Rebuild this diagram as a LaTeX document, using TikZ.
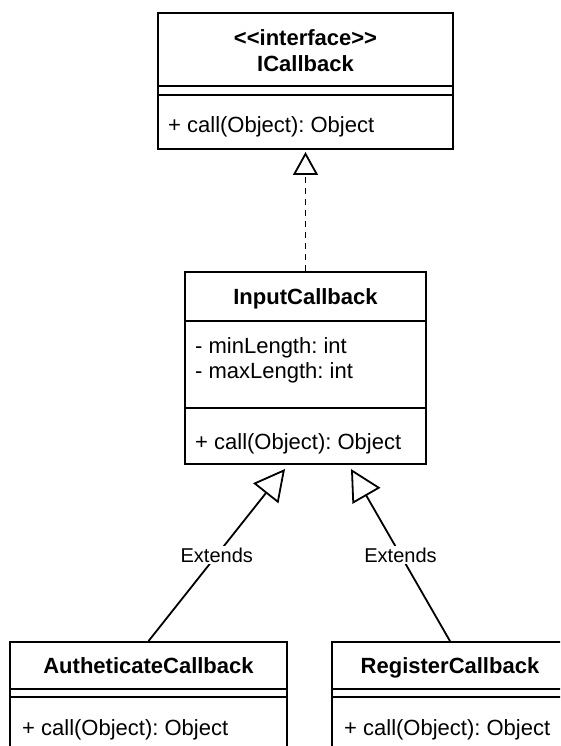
\documentclass[tikz,border=0pt]{standalone}
\usepackage{fontspec}
\newfontfamily\umlfont{Liberation Sans}
\usetikzlibrary{arrows.meta}
\frenchspacing
\tikzset{
  umlbox/.style={draw, line width=1.8pt, rectangle, inner sep=0pt, fill=white},
  sepline/.style={line width=1.8pt},
  txt/.style={font=\umlfont\fontsize{22pt}{26pt}\selectfont, inner sep=0pt},
  ttl/.style={font=\umlfont\bfseries\fontsize{22pt}{26pt}\selectfont, inner sep=0pt, anchor=base},
  lbl/.style={font=\umlfont\fontsize{20pt}{24pt}\selectfont, fill=white, inner sep=2pt},
  conn/.style={line width=1.8pt},
  realize/.style={conn, dash pattern=on 6pt off 5pt, -{Triangle[open, length=23pt, width=25pt]}},
  inherit/.style={conn, -{Triangle[open, length=31pt, width=32pt]}}
}
\begin{document}
\begin{tikzpicture}[x=1pt, y=-1pt]
\clip (0,0) rectangle (560,746);
\fill[white] (0,0) rectangle (560,746);

% ICallback
\node[umlbox, minimum width=295pt, minimum height=136pt] (icb) at (305.5,81) {};
\draw[sepline] (icb.west |- 0,86) -- (icb.east |- 0,86);
\draw[sepline] (icb.west |- 0,95) -- (icb.east |- 0,95);
\node[ttl] (icbst) at (305.5,46) {<<interface>>};
\node[ttl] (icbname) at (305.5,72) {ICallback};
\node[txt, anchor=base west] (icbm) at (168,133) {+ call(Object): Object};

% InputCallback
\node[umlbox, minimum width=241pt, minimum height=192pt] (inp) at (305.5,368) {};
\draw[sepline] (inp.west |- 0,321) -- (inp.east |- 0,321);
\draw[sepline] (inp.west |- 0,408) -- (inp.east |- 0,408);
\node[ttl] (inpname) at (305.5,304) {InputCallback};
\node[txt, anchor=base west] (inpa1) at (195,353) {- minLength: int};
\node[txt, anchor=base west] (inpa2) at (195,378) {- maxLength: int};
\node[txt, anchor=base west] (inpm) at (195,449) {+ call(Object): Object};

% AutheticateCallback
\node[umlbox, minimum width=277pt, minimum height=158pt] (auth) at (148.5,721) {};
\draw[sepline] (auth.west |- 0,689) -- (auth.east |- 0,689);
\draw[sepline] (auth.west |- 0,697) -- (auth.east |- 0,697);
\node[ttl] (authname) at (148.5,673) {AutheticateCallback};
\node[txt, anchor=base west] (authm) at (22,735) {+ call(Object): Object};

% RegisterCallback
\node[umlbox, minimum width=236pt, minimum height=158pt] (reg) at (450,721) {};
\draw[sepline] (reg.west |- 0,689) -- (reg.east |- 0,689);
\draw[sepline] (reg.west |- 0,697) -- (reg.east |- 0,697);
\node[ttl] (regname) at (450,673) {RegisterCallback};
\node[txt, anchor=base west] (regm) at (344,735) {+ call(Object): Object};

% connectors
\coordinate (tipT) at (305.5,152);
\coordinate (tipL) at (285,469);
\coordinate (tipR) at (351,469);
\draw[realize] (inp.north) -- (tipT);
\draw[inherit] (auth.north) -- node[lbl, pos=0.5] (lblL) {Extends} (tipL);
\draw[inherit] (reg.north) -- node[lbl, pos=0.5] (lblR) {Extends} (tipR);
\end{tikzpicture}
\end{document}
